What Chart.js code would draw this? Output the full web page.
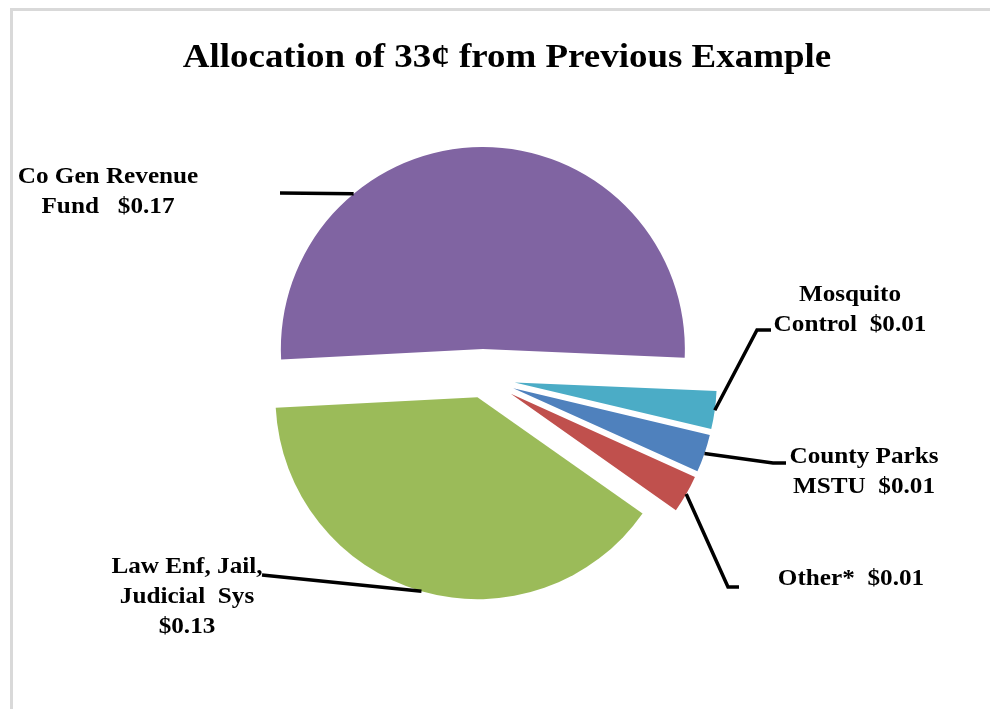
<!DOCTYPE html>
<html>
<head>
<meta charset="utf-8">
<title>Allocation of 33¢</title>
<script src="https://cdn.jsdelivr.net/npm/chart.js@4.4.1/dist/chart.umd.min.js"></script>
<style>
  html, body { margin: 0; padding: 0; background: #fff; overflow: hidden; }
  #wrap { position: relative; width: 990px; height: 709px; }
  #frame {
    position: absolute; left: 10px; top: 8px; right: -10px; bottom: -10px;
    border-left: 3px solid #d9d9d9; border-top: 3px solid #d9d9d9;
  }
  #allocation-pie { position: absolute; left: 0; top: 0; }
</style>
</head>
<body>
<div id="wrap">
  <div id="frame"></div>
  <canvas id="allocation-pie" width="990" height="709"></canvas>
</div>
<script>
// data
const categories = ['Co Gen Revenue Fund', 'Mosquito Control', 'County Parks MSTU', 'Other*', 'Law Enf, Jail, Judicial Sys'];
const amounts = [0.17, 0.01, 0.01, 0.01, 0.13];
const sliceColors = ['#8064A2', '#4BACC6', '#4F81BD', '#C0504D', '#9BBB59'];
const titleText = 'Allocation of 33\u00A2 from Previous Example';

const money = v => '$' + v.toFixed(2);

// how far each slice is pulled out of the pie (px)
const explode = [29, 32, 32, 32, 20];

// label boxes: text lines, centre x, first baseline, where the leader touches the slice
// (fraction of the slice angle) and the rest of the leader path
const callouts = [
  { lines: ['Co Gen Revenue', 'Fund   ' + money(amounts[0])], x: 108, y: 183, at: 0.29, path: [[280, 193]] },
  { lines: ['Mosquito', 'Control  ' + money(amounts[1])], x: 850, y: 301, at: 0.5, path: [[757, 330], [771, 330]] },
  { lines: ['County Parks', 'MSTU  ' + money(amounts[2])], x: 864, y: 463, at: 0.5, path: [[773, 463], [786, 463]] },
  { lines: ['Other*  ' + money(amounts[3])], x: 851, y: 585, at: 0.5, path: [[728, 587], [739, 587]] },
  { lines: ['Law Enf, Jail,', 'Judicial  Sys', money(amounts[4])], x: 187, y: 573, at: 0.5, path: [[262, 575]] }
];

const SERIF = '"Liberation Serif", "Times New Roman", serif';
const STRETCH = 1.12;

function wideText(ctx, text, x, y) {
  ctx.save();
  ctx.translate(x, y);
  ctx.scale(STRETCH, 1);
  ctx.fillText(text, 0, 0);
  ctx.restore();
}

function pullOut(arc) {
  const shift = (arc.options.offset || 0) / 4;
  const fix = 1 - Math.sin(Math.min(Math.PI, arc.circumference));
  return { shift, grow: shift * fix };
}

// Chart.js grows and narrows exploded arcs a little; keep every slice
// at the same visible radius and at its full angle
const evenSlices = {
  id: 'evenSlices',
  afterDatasetUpdate(chart, args) {
    args.meta.data.forEach(arc => {
      const { grow } = pullOut(arc);
      arc.outerRadius -= grow;
      const r = arc.outerRadius + grow;
      const half = (grow / Math.PI) / r / 2;
      arc.startAngle -= half;
      arc.endAngle += half;
    });
  }
};

const calloutLabels = {
  id: 'calloutLabels',
  afterDraw(chart) {
    const ctx = chart.ctx;
    const arcs = chart.getDatasetMeta(0).data;
    ctx.save();
    ctx.fillStyle = '#000';
    ctx.textAlign = 'center';
    ctx.textBaseline = 'alphabetic';

    ctx.font = 'bold 33px ' + SERIF;
    wideText(ctx, titleText, 507, 67);

    ctx.strokeStyle = '#000';
    ctx.lineWidth = 3.5;
    ctx.lineJoin = 'miter';
    ctx.font = 'bold 22.5px ' + SERIF;
    callouts.forEach((c, i) => {
      const arc = arcs[i];
      const { shift, grow } = pullOut(arc);
      const mid = (arc.startAngle + arc.endAngle) / 2;
      const cx = arc.x + Math.cos(mid) * shift;
      const cy = arc.y + Math.sin(mid) * shift;
      const r = arc.outerRadius + grow;
      const a = arc.startAngle + (arc.endAngle - arc.startAngle) * c.at;

      ctx.beginPath();
      ctx.moveTo(cx + Math.cos(a) * r, cy + Math.sin(a) * r);
      c.path.forEach(p => ctx.lineTo(p[0], p[1]));
      ctx.stroke();

      c.lines.forEach((line, k) => wideText(ctx, line, c.x, c.y + k * 30));
    });
    ctx.restore();
  }
};

const ctx = document.getElementById('allocation-pie').getContext('2d');
new Chart(ctx, {
  type: 'pie',
  data: {
    labels: categories,
    datasets: [{
      data: amounts,
      backgroundColor: sliceColors,
      borderWidth: 0,
      offset: explode.map(d => d * 4)
    }]
  },
  options: {
    responsive: false,
    animation: false,
    rotation: 267,
    radius: 202,
    layout: { padding: { left: 0, right: 24, top: 47, bottom: 0 } },
    plugins: {
      legend: { display: false },
      tooltip: { enabled: false }
    }
  },
  plugins: [evenSlices, calloutLabels]
});
</script>
</body>
</html>
